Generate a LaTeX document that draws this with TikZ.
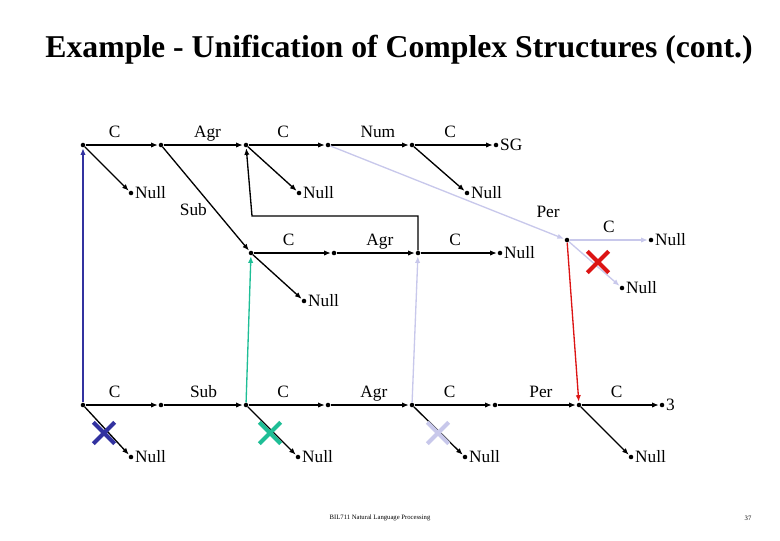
\documentclass[tikz,border=0pt]{standalone}
\usepackage{fontspec}
\setmainfont{Liberation Serif}
\usetikzlibrary{arrows.meta, positioning, shapes.misc}
\definecolor{fs_blue}{RGB}{50, 50, 160}
\definecolor{fs_green}{RGB}{30, 190, 150}
\definecolor{fs_lav}{RGB}{200, 200, 235}
\definecolor{fs_red}{RGB}{220, 20, 20}
\begin{document}
\begin{tikzpicture}[x=0.75pt, y=-0.75pt, font=\fontsize{13}{15}\selectfont,
          dot/.style={circle, fill, inner sep=0pt, minimum size=3.4pt},
          arr/.style={-{Latex[length=5pt, width=4pt]}, line width=1pt, shorten >=0.5pt},
          lbl/.style={above=3pt, inner sep=0pt, text height=1.6ex, text depth=0.45ex},
          nul/.style={label={[inner sep=1pt]right:Null}},
          xmark/.style={draw=#1, cross out, line width=3pt, minimum size=13pt, inner sep=0pt}]
  \useasboundingbox (0,0) rectangle (780,540);
  \node[font=\fontsize{23.8}{26}\selectfont\bfseries] (title) at (399,50)
    {Example - Unification of Complex Structures (cont.)};
  % top structure
  \node[dot] (t1) at (83,145) {};
  \node[dot] (t2) at (161,145) {};
  \node[dot] (t3) at (246,145) {};
  \node[dot] (t4) at (328,145) {};
  \node[dot] (t5) at (412,145) {};
  \node[dot, label={[inner sep=1pt]right:SG}] (t6) at (496,145) {};
  \node[dot, nul] (tn1) at (131,193) {};
  \node[dot, nul] (tn2) at (299,193) {};
  \node[dot, nul] (tn3) at (467,193) {};
  \draw[arr] (t1) -- node[lbl, pos=0.4] {C} (t2);
  \draw[arr] (t2) -- node[lbl, pos=0.55] {Agr} (t3);
  \draw[arr] (t3) -- node[lbl, pos=0.45] {C} (t4);
  \draw[arr] (t4) -- node[lbl, pos=0.6] {Num} (t5);
  \draw[arr] (t5) -- node[lbl, pos=0.45] {C} (t6);
  \draw[arr] (t1) -- (tn1);
  \draw[arr] (t3) -- (tn2);
  \draw[arr] (t5) -- (tn3);
  % middle structure
  \node[dot] (m1) at (251,253) {};
  \node[dot] (m2) at (334,253) {};
  \node[dot] (m3) at (418,253) {};
  \node[dot, nul] (m4) at (500,253) {};
  \node[dot, nul] (mn) at (304,301) {};
  \draw[arr] (t2) -- node[left=2pt, pos=0.6] {Sub} (m1);
  \draw[arr] (m1) -- node[lbl, pos=0.45] {C} (m2);
  \draw[arr] (m2) -- node[lbl, pos=0.55] {Agr} (m3);
  \draw[arr] (m3) -- node[lbl, pos=0.45] {C} (m4);
  \draw[arr] (m1) -- (mn);
  \draw[arr] (m3) -- ++(0,-37) -- ++(-166,0) -- (t3);
  % per branch
  \node[dot] (p) at (567,240) {};
  \node[dot, nul] (pc) at (651,240) {};
  \node[dot, nul] (pn) at (622,288) {};
  \draw[arr, fs_lav] (t4) -- node[above right=2pt, pos=0.85] {\color{black}Per} (p);
  \draw[arr, fs_lav] (p) -- node[lbl, pos=0.5] {\color{black}C} (pc);
  \draw[arr, fs_lav] (p) -- (pn);
  \node[xmark=fs_red] (x0) at (598,262) {};
  % bottom structure
  \node[dot] (b1) at (83,405) {};
  \node[dot] (b2) at (161,405) {};
  \node[dot] (b3) at (246,405) {};
  \node[dot] (b4) at (328,405) {};
  \node[dot] (b5) at (412,405) {};
  \node[dot] (b6) at (495,405) {};
  \node[dot] (b7) at (579,405) {};
  \node[dot, label={[inner sep=1pt]right:3}] (b8) at (662,405) {};
  \node[dot, nul] (bn1) at (131,457) {};
  \node[dot, nul] (bn2) at (298,457) {};
  \node[dot, nul] (bn3) at (465,457) {};
  \node[dot, nul] (bn4) at (631,457) {};
  \draw[arr] (b1) -- node[lbl, pos=0.4] {C} (b2);
  \draw[arr] (b2) -- node[lbl, pos=0.5] {Sub} (b3);
  \draw[arr] (b3) -- node[lbl, pos=0.45] {C} (b4);
  \draw[arr] (b4) -- node[lbl, pos=0.55] {Agr} (b5);
  \draw[arr] (b5) -- node[lbl, pos=0.45] {C} (b6);
  \draw[arr] (b6) -- node[lbl, pos=0.55] {Per} (b7);
  \draw[arr] (b7) -- node[lbl, pos=0.45] {C} (b8);
  \draw[arr] (b1) -- (bn1);
  \draw[arr] (b3) -- (bn2);
  \draw[arr] (b5) -- (bn3);
  \draw[arr] (b7) -- (bn4);
  \node[xmark=fs_blue] (x1) at (104,433) {};
  \node[xmark=fs_green] (x2) at (270,433) {};
  \node[xmark=fs_lav] (x3) at (438,433) {};
  % sharing links
  \draw[arr, fs_blue] (b1) -- (t1);
  \draw[arr, fs_green] (b3) -- (m1);
  \draw[arr, fs_lav] (b5) -- (m3);
  \draw[arr, fs_red] (p) -- (b7);
  % footer
  \node[font=\fontsize{5}{6}\selectfont] (foot) at (380,518) {BIL711 Natural Language Processing};
  \node[font=\fontsize{5}{6}\selectfont] (page) at (748,518) {37};
\end{tikzpicture}
\end{document}
